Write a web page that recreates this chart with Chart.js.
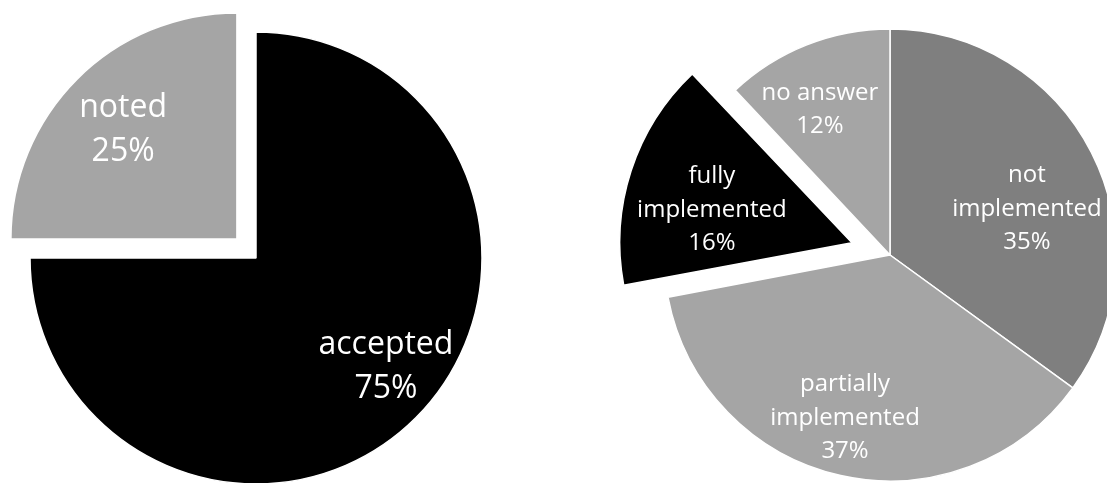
<!DOCTYPE html>
<html>
<head>
<meta charset="utf-8">
<script src="https://cdn.jsdelivr.net/npm/chart.js@4/dist/chart.umd.min.js"></script>
<style>
    html, body { margin: 0; padding: 0; background: #fff; overflow: hidden; }
    #wrap { position: relative; width: 1107px; height: 483px; overflow: hidden; }
    #leftPie { position: absolute; left: 0; top: 0; }
    #rightPie { position: absolute; left: 590px; top: 0; }
</style>
</head>
<body>
<div id="wrap">
    <canvas id="leftPie" width="512" height="516"></canvas>
    <canvas id="rightPie" width="600" height="510"></canvas>
</div>
<script>
// left pie: replies to the recommendations
var leftLabels = [['accepted'], ['noted']];
var leftValues = [75, 25];

// right pie: state of implementation
var rightLabels = [['not', 'implemented'], ['partially', 'implemented'], ['fully', 'implemented'], ['no answer']];
var rightValues = [35, 37, 16, 12];

// draws the white labels inside the slices, placed relative to the pie centre (in radius units)
var sliceLabels = {
    id: 'sliceLabels',
    afterDatasetsDraw: function(chart, args, opts) {
        var ctx = chart.ctx;
        var meta = chart.getDatasetMeta(0);
        var values = chart.data.datasets[0].data;
        ctx.save();
        ctx.fillStyle = '#ffffff';
        ctx.font = opts.size + 'px "Open Sans"';
        ctx.textAlign = 'center';
        ctx.textBaseline = 'middle';
        for (var i = 0; i < meta.data.length; i++) {
            var arc = meta.data[i];
            var lines = chart.data.labels[i].concat([values[i] + '%']);
            var cx = arc.x + opts.pos[i][0] * arc.outerRadius;
            var cy = arc.y + opts.pos[i][1] * arc.outerRadius;
            var top = cy - (lines.length - 1) * opts.lineHeight / 2;
            for (var j = 0; j < lines.length; j++) {
                ctx.fillText(lines[j], cx, top + j * opts.lineHeight);
            }
        }
        ctx.restore();
    }
};

function makePie(id, labels, values, colors, offsets, labelOpts) {
    var ctx = document.getElementById(id);
    return new Chart(ctx, {
        type: 'pie',
        data: {
            labels: labels,
            datasets: [{
                data: values,
                backgroundColor: colors,
                borderColor: '#ffffff',
                borderWidth: 1.5,
                offset: offsets,
                hoverOffset: 0
            }]
        },
        options: {
            responsive: false,
            animation: false,
            radius: 226,
            layout: { padding: 0 },
            events: [],
            plugins: {
                legend: { display: false },
                tooltip: { enabled: false },
                sliceLabels: labelOpts
            }
        },
        plugins: [sliceLabels]
    });
}

makePie('leftPie', leftLabels, leftValues,
    ['#000000', '#a5a5a5'],
    [0, 108],
    { size: 32, lineHeight: 44, pos: [[0.575, 0.48], [-0.588, -0.566]] });

makePie('rightPie', rightLabels, rightValues,
    ['#7f7f7f', '#a5a5a5', '#000000', '#a5a5a5'],
    [0, 0, 160, 0],
    { size: 24, lineHeight: 33.5, pos: [[0.606, -0.204], [-0.199, 0.721], [-0.788, -0.199], [-0.31, -0.644]] });
</script>
</body>
</html>
